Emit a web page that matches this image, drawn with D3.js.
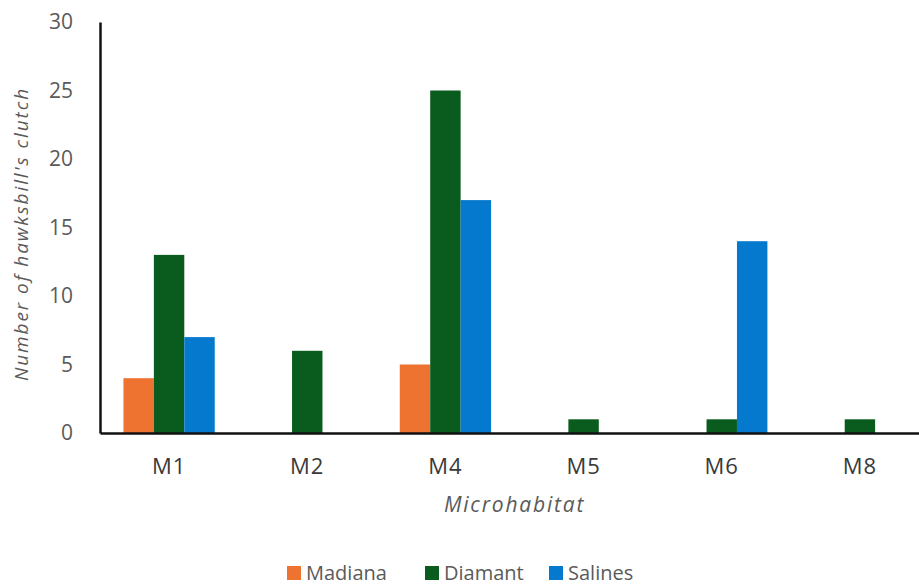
<!DOCTYPE html>
<meta charset="utf-8">
<style>
  body { margin: 0; background: #fff; }
  text { font-family: "Open Sans", "Liberation Sans", sans-serif; }
</style>
<body>
<div id="chart"></div>
<script src="https://d3js.org/d3.v7.min.js"></script>
<script>
  // data
  var categories = ["M1", "M2", "M4", "M5", "M6", "M8"];
  var series = ["Madiana", "Diamant", "Salines"];
  var madiana = [4, 0, 5, 0, 0, 0];
  var diamant = [13, 6, 25, 1, 1, 1];
  var salines = [7, 0, 17, 0, 14, 0];
  var yTicks = [0, 5, 10, 15, 20, 25, 30];

  var colors = { Madiana: "#EE7230", Diamant: "#0A5C1E", Salines: "#0479CE" };
  var values = { Madiana: madiana, Diamant: diamant, Salines: salines };

  var W = 919, H = 585;
  var plotL = 100, plotR = 929, plotT = 22, plotB = 433;

  var svg = d3.select("#chart").append("svg")
    .attr("width", W)
    .attr("height", H);

  var x0 = d3.scaleBand()
    .domain(categories)
    .range([plotL, plotR])
    .padding(0);

  var x1 = d3.scaleBand()
    .domain(series)
    .range([0, x0.bandwidth()])
    .paddingInner(0)
    .paddingOuter(0.77);

  var y = d3.scaleLinear()
    .domain([0, 30])
    .range([plotB, plotT]);

  // bars
  var groups = svg.selectAll(".grp")
    .data(categories)
    .enter().append("g")
    .attr("class", "grp")
    .attr("transform", function(d) { return "translate(" + x0(d) + ",0)"; });

  groups.selectAll("rect")
    .data(function(d, i) {
      return series
        .map(function(s) { return { s: s, v: values[s][i] }; })
        .filter(function(e) { return e.v > 0; });
    })
    .enter().append("rect")
    .attr("x", function(d) { return x1(d.s); })
    .attr("y", function(d) { return y(d.v); })
    .attr("width", x1.bandwidth())
    .attr("height", function(d) { return y(0) - y(d.v); })
    .attr("fill", function(d) { return colors[d.s]; });

  // y axis
  var yAxis = svg.append("g")
    .attr("transform", "translate(" + plotL + ",0)")
    .call(d3.axisLeft(y).tickValues(yTicks).tickSize(0).tickPadding(27));
  yAxis.select(".domain").attr("stroke", "#111").attr("stroke-width", 2.5);
  yAxis.selectAll("text")
    .attr("fill", "#5a5a5a")
    .style("font-size", "21px");

  // x axis
  var xAxis = svg.append("g")
    .attr("transform", "translate(0," + plotB + ")")
    .call(d3.axisBottom(x0).tickSize(0).tickPadding(25));
  xAxis.select(".domain").attr("stroke", "#111").attr("stroke-width", 2.5);
  xAxis.selectAll("text")
    .attr("fill", "#3a3a3a")
    .style("font-size", "22px")
    .style("letter-spacing", "1px");

  // axis titles
  svg.append("text")
    .attr("transform", "translate(28," + 234 + ") rotate(-90)")
    .attr("text-anchor", "middle")
    .attr("fill", "#5a5a5a")
    .style("font-size", "19px")
    .style("letter-spacing", "1.9px")
    .style("font-style", "italic")
    .text("Number of hawksbill's clutch");

  svg.append("text")
    .attr("x", (plotL + plotR) / 2)
    .attr("y", 512)
    .attr("text-anchor", "middle")
    .attr("fill", "#5a5a5a")
    .style("font-size", "21px")
    .style("letter-spacing", "1.8px")
    .style("font-style", "italic")
    .text("Microhabitat");

  // legend
  var legendX = [287, 425, 549];
  var legend = svg.selectAll(".leg")
    .data(series)
    .enter().append("g")
    .attr("class", "leg")
    .attr("transform", function(d, i) { return "translate(" + legendX[i] + ",566)"; });

  legend.append("rect")
    .attr("width", 14)
    .attr("height", 14)
    .attr("fill", function(d) { return colors[d]; });

  legend.append("text")
    .attr("x", 19)
    .attr("y", 14)
    .attr("fill", "#5a5a5a")
    .style("font-size", "20px")
    .text(function(d) { return d; });
</script>
</body>
